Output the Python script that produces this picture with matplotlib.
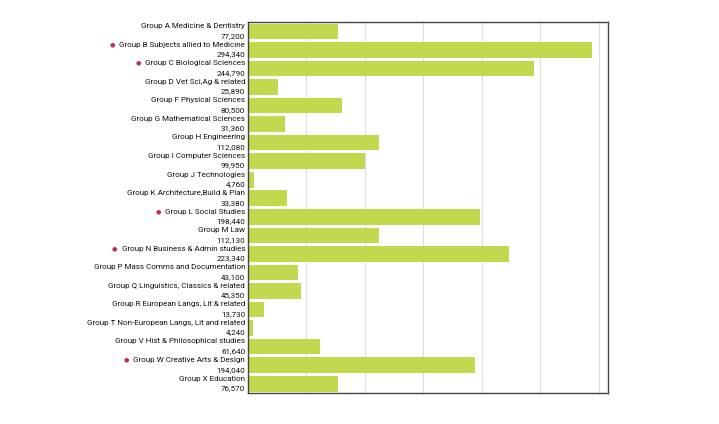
import numpy as np
import matplotlib.pyplot as plt
import matplotlib.transforms as mtransforms
from matplotlib import font_manager

# subject groups and their values
groups = ['Group A Medicine & Dentistry', 'Group B Subjects allied to Medicine',
          'Group C Biological Sciences', 'Group D Vet Sci,Ag & related',
          'Group F Physical Sciences', 'Group G Mathematical Sciences',
          'Group H Engineering', 'Group I Computer Sciences',
          'Group J Technologies', 'Group K Architecture,Build & Plan',
          'Group L Social Studies', 'Group M Law',
          'Group N Business & Admin studies', 'Group P Mass Comms and Documentation',
          'Group Q Linguistics, Classics & related', 'Group R European Langs, Lit & related',
          'Group T Non-European Langs, Lit and related', 'Group V Hist & Philosophical studies',
          'Group W Creative Arts & Design', 'Group X Education']
values = [77200, 294340, 244790, 25890, 80500, 31360, 112080, 99950, 4760, 33380,
          198440, 112130, 223340, 43100, 45350, 13730, 4240, 61640, 194040, 76570]
marked = ['Group B Subjects allied to Medicine', 'Group C Biological Sciences',
          'Group L Social Studies', 'Group N Business & Admin studies',
          'Group W Creative Arts & Design']

names = {f.name for f in font_manager.fontManager.ttflist}
if 'Liberation Sans Narrow' in names:
    fam, fs = 'Liberation Sans Narrow', 7.1
else:
    fam, fs = 'Roboto', 5.8
plt.rcParams['font.family'] = [fam, 'DejaVu Sans']

fig = plt.figure(figsize=(7.19, 4.24), dpi=100)
ax = fig.add_axes([0.345, 0.073, 0.5006, 0.875])

y = np.arange(len(groups))
ax.barh(y, values, height=0.84, color='#c0d94e', zorder=2)
ax.set_ylim(len(groups) - 0.5, -0.5)
ax.set_xlim(0, 308000)
ax.set_xticks(np.arange(50000, 300001, 50000))
ax.xaxis.grid(True, color='#dddddd', linewidth=0.8, zorder=0)
ax.tick_params(left=False, bottom=False, labelleft=False, labelbottom=False)
for s in ax.spines.values():
    s.set_color('#444444')
    s.set_linewidth(1.0)

trans = mtransforms.blended_transform_factory(ax.transAxes, ax.transData)
for i, (g, v) in enumerate(zip(groups, values)):
    t = ax.text(-0.008, i - 0.28, g, transform=trans, ha='right', va='center',
                fontsize=fs, color='#111111')
    ax.text(-0.008, i + 0.24, f'{v:,}', transform=trans, ha='right', va='center',
            fontsize=fs, color='#111111')
    if g in marked:
        ax.annotate('●', xy=(0, 0.5), xycoords=t, xytext=(-3, 0),
                    textcoords='offset points', ha='right', va='center',
                    fontsize=4.5, color='#b8344f', family='DejaVu Sans')

fig.savefig('out.png', dpi=100)
